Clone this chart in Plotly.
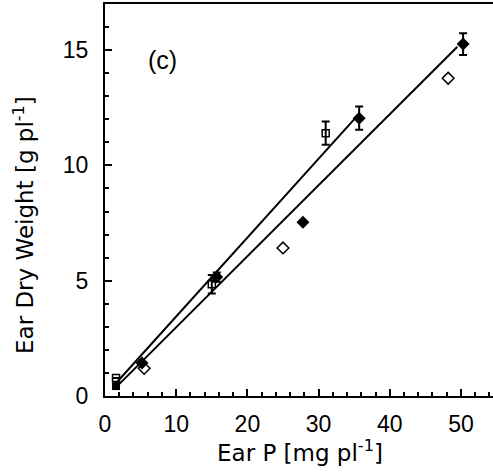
import plotly.graph_objects as go

# ---- data ----
# filled diamonds
fd_x = [5.2, 15.7, 27.8, 35.7, 50.3]
fd_y = [1.43, 5.16, 7.54, 12.05, 15.26]
fd_err = [0.0, 0.2, 0.0, 0.5, 0.47]
# open diamonds
od_x = [5.5, 25.0, 48.2]
od_y = [1.2, 6.42, 13.78]
# filled squares
fs_x = [1.55]
fs_y = [0.43]
# open squares
os_x = [1.55, 15.0, 31.0]
os_y = [0.78, 4.85, 11.4]
os_err = [0.0, 0.4, 0.5]
# regression lines: slope, intercept, x-extent
fit1_slope, fit1_icpt, fit1_x = 0.342, 0.03, [1.5, 35.5]
fit2_slope, fit2_icpt, fit2_x = 0.308, -0.10, [1.5, 49.5]

x_ticks = [0, 10, 20, 30, 40, 50]
y_ticks = [0, 5, 10, 15]

fit1_y = [fit1_icpt + fit1_slope * v for v in fit1_x]
fit2_y = [fit2_icpt + fit2_slope * v for v in fit2_x]

fig = go.Figure()
line_style = dict(color="black", width=2)
fig.add_trace(go.Scatter(x=fit1_x, y=fit1_y, mode="lines", line=line_style, showlegend=False))
fig.add_trace(go.Scatter(x=fit2_x, y=fit2_y, mode="lines", line=line_style, showlegend=False))

err_style = dict(type="data", visible=True, color="black", thickness=2, width=4)
fig.add_trace(go.Scatter(
    x=os_x, y=os_y, mode="markers", showlegend=False,
    error_y=dict(array=os_err, **err_style),
    marker=dict(symbol="square-open", size=7, color="black", line=dict(width=1.5))))
fig.add_trace(go.Scatter(
    x=fs_x, y=fs_y, mode="markers", showlegend=False,
    marker=dict(symbol="square", size=8, color="black")))
fig.add_trace(go.Scatter(
    x=od_x, y=od_y, mode="markers", showlegend=False,
    marker=dict(symbol="diamond-open", size=9, color="black", line=dict(width=1.5))))
fig.add_trace(go.Scatter(
    x=fd_x, y=fd_y, mode="markers", showlegend=False,
    error_y=dict(array=fd_err, **err_style),
    marker=dict(symbol="diamond", size=10, color="black")))

tick_font = dict(family="Liberation Sans Narrow, Liberation Sans, Arial, sans-serif", size=23, color="black")
title_font = dict(family="DejaVu Sans, sans-serif", size=23, color="black")

fig.update_xaxes(
    range=[0, 54.5], tickvals=x_ticks, ticks="inside", ticklen=7, tickwidth=1.5,
    tickcolor="black", showline=True, linecolor="black", linewidth=2, mirror=True,
    showgrid=False, zeroline=False, tickfont=tick_font, ticklabelstandoff=6,
    minor=dict(dtick=2, ticks="inside", ticklen=4, tickwidth=1.5, tickcolor="black", showgrid=False))
fig.update_yaxes(
    range=[0, 17], tickvals=y_ticks, ticks="inside", ticklen=7, tickwidth=1.5,
    tickcolor="black", showline=True, linecolor="black", linewidth=2,
    showgrid=False, zeroline=False, tickfont=tick_font, ticklabelstandoff=10,
    minor=dict(dtick=1, ticks="inside", ticklen=4, tickwidth=1.5, tickcolor="black", showgrid=False))

fig.add_annotation(text="Ear P [mg pl<sup>-1</sup>]", xref="paper", yref="paper",
                   x=0.5026, y=-0.14, xanchor="center", yanchor="middle",
                   showarrow=False, font=title_font)
fig.add_annotation(text="Ear Dry Weight [g pl<sup>-1</sup>]", xref="paper", yref="paper",
                   x=-0.209, y=0.436, xanchor="center", yanchor="middle", textangle=-90,
                   showarrow=False, font=title_font)
fig.add_annotation(text="(c)", xref="paper", yref="paper", x=0.147, y=0.857,
                   xanchor="center", yanchor="middle", showarrow=False,
                   font=dict(family="Liberation Sans, Arial, sans-serif", size=25, color="black"))

fig.update_layout(
    width=493, height=475, margin=dict(l=105, r=0, t=4, b=79),
    plot_bgcolor="white", paper_bgcolor="white")

fig.write_html("out.html")
